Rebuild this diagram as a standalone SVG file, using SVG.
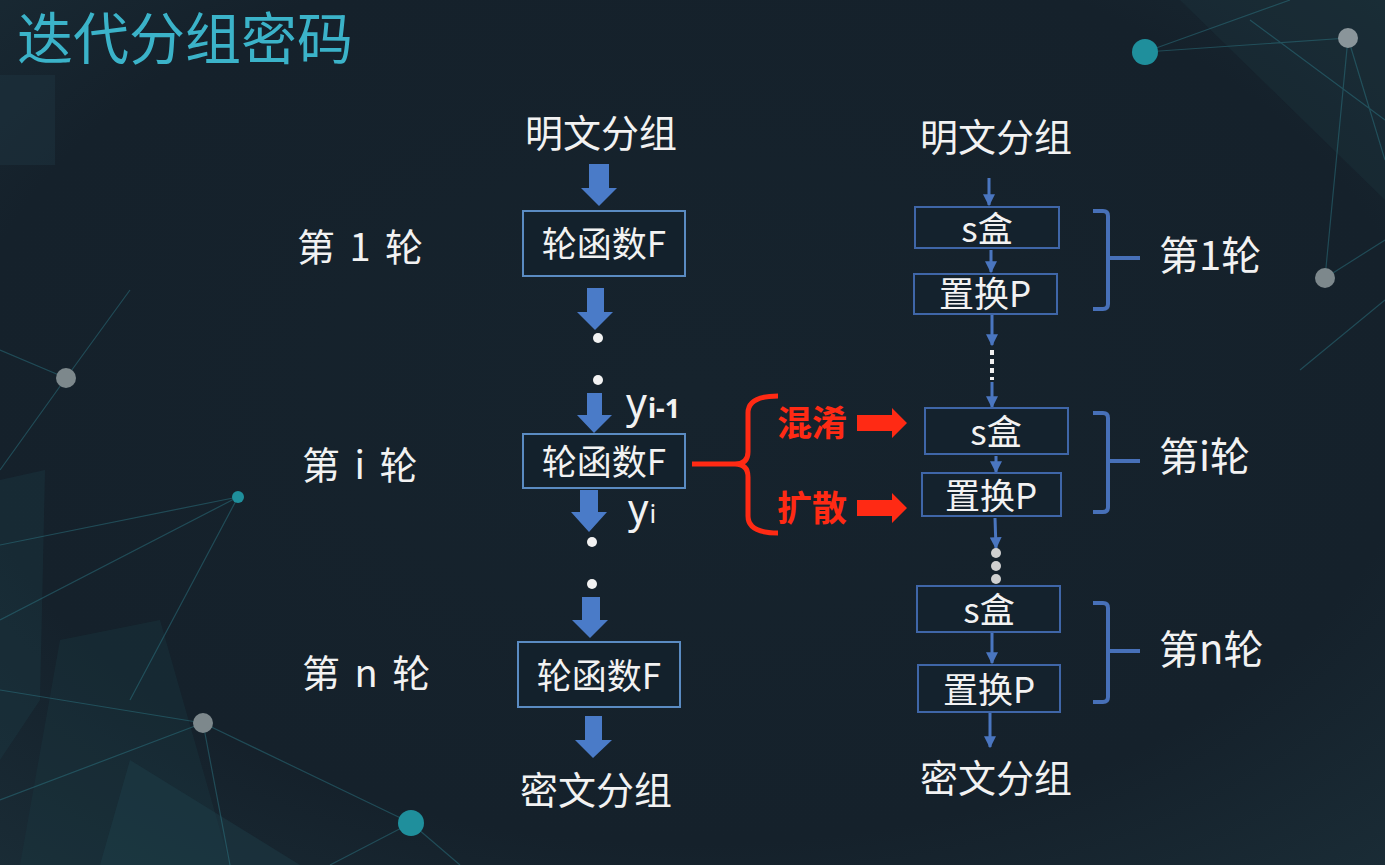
<svg xmlns="http://www.w3.org/2000/svg" width="1385" height="865" viewBox="0 0 1385 865">
<defs>
<radialGradient id="bg" cx="0.5" cy="0.45" r="0.75">
<stop offset="0" stop-color="#16232d"/>
<stop offset="0.7" stop-color="#15212b"/>
<stop offset="1" stop-color="#1a2c36"/>
</radialGradient>
<marker id="ah" viewBox="0 0 10 10" refX="9" refY="5" markerWidth="4" markerHeight="4" orient="auto" markerUnits="strokeWidth">
<path d="M0,0 L10,5 L0,10 Z" fill="#4a76c0"/>
</marker>
<style>
.cn{font-family:"Noto Sans CJK SC","Noto Sans",sans-serif;fill:#f2f2f2;}
.lt{font-family:"Noto Sans","Noto Sans CJK SC",sans-serif;fill:#f2f2f2;}
.boxL{fill:#13212c;stroke:#5a8bc2;stroke-width:2;}
.boxR{fill:#14222d;stroke:#3f66a8;stroke-width:2;}
.blk{fill:#4a7bc8;}
.thin{stroke:#4a76c0;stroke-width:3;fill:none;marker-end:url(#ah);}
.brace{fill:none;stroke:#4770b8;stroke-width:4;}
.red{font-family:"Noto Sans CJK SC","Noto Sans",sans-serif;fill:#ff2a14;font-weight:bold;}
.dot{fill:#f2f2f2;}
.gdot{fill:#d0d0d0;}
.net{stroke:#2f7f8c;stroke-width:1.2;opacity:0.45;fill:none;}
</style>
</defs>
<rect width="1385" height="865" fill="url(#bg)"/>
<g id="background">
<polygon points="0,75 55,75 55,165 0,165" fill="#1e3440" opacity="0.5"/>
<polygon points="1180,0 1385,0 1385,200" fill="#1c3640" opacity="0.35"/>
<polygon points="0,480 45,470 40,700 0,760" fill="#1c3a44" opacity="0.4"/>
<polygon points="60,640 160,620 230,865 20,865" fill="#1b3942" opacity="0.35"/>
<polygon points="130,760 300,865 100,865" fill="#1f4650" opacity="0.35"/>
<path class="net" d="M1145,52 L1348,38 M1145,52 L1290,0 M1348,38 L1325,278 M1348,38 L1385,160 M1325,278 L1385,240 M1300,370 L1385,300 M1250,20 L1385,120"/>
<path class="net" d="M66,378 L0,350 M66,378 L0,470 M66,378 L130,290 M0,545 L238,497 M238,497 L130,700 M238,497 L0,620 M203,723 L0,800 M203,723 L411,823 M203,723 L230,865 M411,823 L330,865 M411,823 L460,865 M0,690 L203,723"/>
<circle cx="1145" cy="52" r="13" fill="#1f8f9c"/>
<circle cx="1348" cy="38" r="10" fill="#8a959a"/>
<circle cx="1325" cy="278" r="10" fill="#7d888c"/>
<circle cx="66" cy="378" r="10" fill="#7d888c"/>
<circle cx="238" cy="497" r="6" fill="#1f8f9c"/>
<circle cx="203" cy="723" r="10" fill="#7d888c"/>
<circle cx="411" cy="823" r="13" fill="#1f8f9c"/>
</g>
<g id="title"><text x="17" y="59" font-size="56" font-family="Noto Sans CJK SC, sans-serif" fill="#3bb3c9">迭代分组密码</text></g>

<g id="connectors">
<polygon class="blk" points="589,164 609,164 609,188 617,188 599,206 581,188 589,188"/>
<polygon class="blk" points="587,288 604,288 604,312 613,312 595,330 577,312 587,312"/>
<polygon class="blk" points="587,393 602,393 602,415 612,415 594,433 577,415 587,415"/>
<polygon class="blk" points="580,490 598,490 598,512 607,512 589,532 571,512 580,512"/>
<polygon class="blk" points="582,597 600,597 600,620 608,620 590,638 572,620 582,620"/>
<polygon class="blk" points="585,716 602,716 602,740 612,740 593,758 575,740 585,740"/>
<circle class="dot" cx="598" cy="338" r="5"/>
<circle class="dot" cx="598" cy="380" r="5"/>
<circle class="dot" cx="592" cy="542" r="5"/>
<circle class="dot" cx="592" cy="584" r="5"/>
<path d="M692,464 L735,464 M778,396 Q748,396 748,413 L748,452 Q748,464 735,464 Q748,464 748,477 L748,516 Q748,533 778,533" fill="none" stroke="#ff2a14" stroke-width="5"/>
<polygon points="857,415 892,415 892,408 907,423 892,438 892,431 857,431" fill="#ff2a14"/>
<polygon points="857,500 892,500 892,493 907,508 892,523 892,516 857,516" fill="#ff2a14"/>
<line class="thin" x1="989" y1="178" x2="989" y2="205"/>
<line class="thin" x1="991" y1="250" x2="991" y2="272"/>
<line class="thin" x1="992" y1="315" x2="992" y2="345"/>
<line x1="992" y1="350" x2="992" y2="380" stroke="#f2f2f2" stroke-width="4" stroke-dasharray="5,4"/>
<line class="thin" x1="992" y1="382" x2="992" y2="407"/>
<line class="thin" x1="996" y1="456" x2="996" y2="472"/>
<line class="thin" x1="995" y1="518" x2="996" y2="548"/>
<circle class="gdot" cx="996" cy="553" r="5"/>
<circle class="gdot" cx="996" cy="566" r="5"/>
<circle class="gdot" cx="996" cy="579" r="5"/>
<line class="thin" x1="992" y1="633" x2="992" y2="663"/>
<line class="thin" x1="990" y1="713" x2="990" y2="747"/>
<path class="brace" d="M1093,211 L1103,211 Q1108,211 1108,216 L1108,304 Q1108,309 1103,309 L1093,309 M1108,258 L1140,258"/>
<path class="brace" d="M1093,413 L1103,413 Q1108,413 1108,418 L1108,507 Q1108,512 1103,512 L1093,512 M1108,461 L1140,461"/>
<path class="brace" d="M1093,603 L1103,603 Q1108,603 1108,608 L1108,697 Q1108,702 1103,702 L1093,702 M1108,651 L1140,651"/>
</g>

<g id="plain-left"><text class="cn" x="601" y="147" font-size="38" text-anchor="middle">明文分组</text></g>
<g id="round1-label"><text class="cn" x="297" y="261" font-size="38" word-spacing="6">第 1 轮</text></g>
<g id="F1"><rect class="boxL" x="523" y="211" width="162" height="65"/><text class="cn" x="604" y="257" font-size="35" text-anchor="middle">轮函数F</text></g>
<g id="yi1"><text class="lt" x="626" y="418" font-size="41">y<tspan font-size="27" font-weight="bold" dx="1">i-1</tspan></text></g>
<g id="roundi-label"><text class="cn" x="302" y="479" font-size="38" word-spacing="6">第 i 轮</text></g>
<g id="F2"><rect class="boxL" x="523" y="434" width="162" height="54"/><text class="cn" x="604" y="475" font-size="35" text-anchor="middle">轮函数F</text></g>
<g id="yi"><text class="lt" x="628" y="523" font-size="40">y<tspan font-size="26" dx="1">i</tspan></text></g>
<g id="roundn-label"><text class="cn" x="302" y="687" font-size="38" word-spacing="6">第 n 轮</text></g>
<g id="F3"><rect class="boxL" x="518" y="642" width="162" height="65"/><text class="cn" x="599" y="689" font-size="35" text-anchor="middle">轮函数F</text></g>
<g id="cipher-left"><text class="cn" x="596" y="804" font-size="38" text-anchor="middle">密文分组</text></g>

<g id="confusion"><text class="red" x="777" y="436" font-size="35">混淆</text></g>
<g id="diffusion"><text class="red" x="777" y="521" font-size="35">扩散</text></g>

<g id="plain-right"><text class="cn" x="996" y="151" font-size="38" text-anchor="middle">明文分组</text></g>
<g id="S1"><rect class="boxR" x="915" y="207" width="144" height="41"/><text class="cn" x="987" y="242" font-size="35" text-anchor="middle">s盒</text></g>
<g id="P1"><rect class="boxR" x="914" y="274" width="143" height="40"/><text class="cn" x="985" y="307" font-size="35" text-anchor="middle">置换P</text></g>
<g id="S2"><rect class="boxR" x="925" y="408" width="143" height="46"/><text class="cn" x="996" y="445" font-size="35" text-anchor="middle">s盒</text></g>
<g id="P2"><rect class="boxR" x="922" y="473" width="139" height="43"/><text class="cn" x="991" y="509" font-size="35" text-anchor="middle">置换P</text></g>
<g id="S3"><rect class="boxR" x="917" y="586" width="143" height="46"/><text class="cn" x="989" y="623" font-size="35" text-anchor="middle">s盒</text></g>
<g id="P3"><rect class="boxR" x="918" y="665" width="142" height="47"/><text class="cn" x="989" y="703" font-size="35" text-anchor="middle">置换P</text></g>
<g id="cipher-right"><text class="cn" x="996" y="792" font-size="38" text-anchor="middle">密文分组</text></g>
<g id="r1"><text class="cn" x="1159" y="270" font-size="40">第1轮</text></g>
<g id="ri"><text class="cn" x="1159" y="471" font-size="40">第i轮</text></g>
<g id="rn"><text class="cn" x="1159" y="664" font-size="40">第n轮</text></g>
</svg>
